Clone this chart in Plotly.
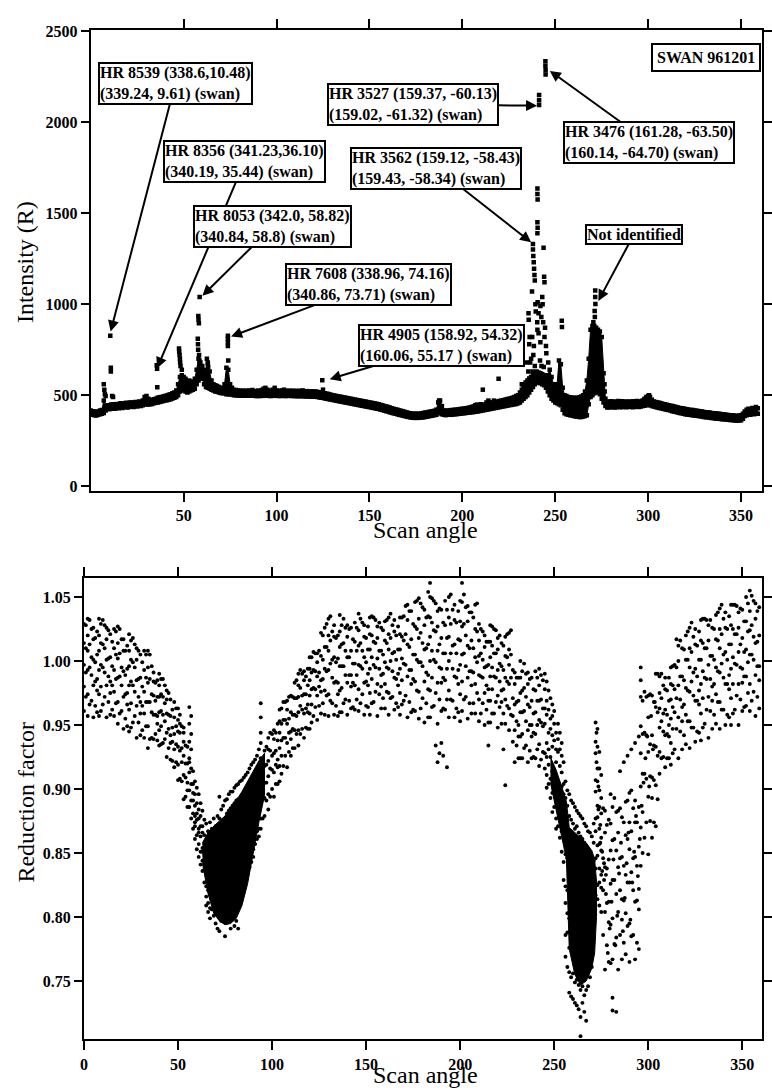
import plotly.graph_objects as go

# ================= TOP PANEL: SWAN 961201 intensity (R) vs scan angle =================
scan_deg = list(range(360))  # 1-degree scan-angle grid of the band

band_lo = [
    395, 392, 390, 388, 392, 395, 398, 402, 415, 425,
    422, 425, 428, 425, 430, 428, 432, 430, 433, 435,
    432, 436, 438, 435, 440, 438, 442, 440, 445, 448,
    450, 448, 450, 452, 455, 458, 460, 462, 465, 468,
    470, 472, 475, 478, 482, 486, 490, 500, 520, 530,
    525, 520, 515, 520, 525, 530, 535, 560, 580, 600,
    590, 560, 545, 540, 535, 530, 525, 520, 518, 515,
    512, 510, 510, 505, 505, 505, 503, 500, 500, 498,
    498, 497, 498, 496, 497, 498, 496, 497, 496, 495,
    496, 495, 497, 496, 498, 497, 496, 495, 497, 498,
    496, 496, 495, 497, 496, 495, 496, 497, 495, 496,
    495, 494, 495, 494, 495, 493, 494, 493, 492, 493,
    491, 492, 490, 488, 486, 485, 482, 480, 478, 476,
    474, 472, 470, 468, 466, 464, 462, 460, 458, 456,
    454, 452, 450, 448, 446, 444, 442, 440, 438, 436,
    434, 432, 430, 428, 426, 424, 420, 418, 415, 412,
    410, 406, 403, 400, 398, 395, 392, 390, 387, 385,
    382, 380, 378, 376, 375, 376, 375, 376, 377, 378,
    380, 382, 384, 386, 388, 390, 392, 400, 410, 395,
    392, 390, 392, 393, 392, 394, 395, 396, 397, 398,
    400, 401, 402, 404, 405, 406, 407, 409, 410, 412,
    414, 416, 418, 420, 422, 424, 426, 428, 430, 432,
    434, 436, 438, 440, 442, 444, 446, 448, 450, 452,
    455, 460, 470, 480, 490, 500, 515, 530, 545, 560,
    570, 570, 565, 560, 555, 540, 520, 500, 480, 470,
    460, 455, 450, 445, 420, 400, 395, 392, 390, 388,
    385, 383, 382, 380, 380, 382, 385, 390, 450, 490,
    500, 510, 520, 515, 505, 480, 460, 440, 432, 434,
    433, 435, 432, 434, 436, 433, 435, 437, 434, 436,
    435, 437, 434, 436, 438, 435, 437, 440, 442, 445,
    448, 445, 440, 438, 435, 432, 430, 428, 425, 422,
    420, 418, 415, 412, 410, 408, 405, 402, 400, 398,
    395, 393, 392, 391, 390, 388, 387, 386, 384, 382,
    380, 379, 378, 377, 375, 374, 372, 371, 370, 369,
    368, 367, 366, 365, 364, 363, 362, 361, 360, 361,
    362, 370, 385, 390, 395, 392, 398, 395, 400, 398,
]

band_hi = [
    415, 412, 410, 408, 410, 415, 418, 470, 440, 445,
    445, 448, 450, 445, 452, 450, 455, 450, 455, 458,
    455, 460, 460, 458, 462, 460, 465, 462, 470, 490,
    495, 480, 472, 475, 478, 480, 485, 488, 490, 492,
    495, 498, 502, 505, 510, 515, 525, 560, 600, 610,
    600, 590, 575, 580, 570, 575, 590, 640, 700, 680,
    660, 640, 620, 670, 630, 580, 560, 555, 550, 545,
    540, 538, 560, 650, 640, 560, 540, 530, 528, 525,
    525, 522, 525, 520, 524, 525, 522, 528, 520, 522,
    525, 520, 528, 535, 540, 530, 525, 522, 530, 540,
    526, 524, 522, 526, 530, 524, 522, 525, 522, 524,
    523, 522, 524, 521, 526, 520, 522, 520, 519, 521,
    518, 520, 518, 516, 514, 530, 510, 508, 506, 503,
    500, 498, 496, 494, 492, 490, 488, 486, 484, 482,
    480, 478, 476, 474, 472, 470, 468, 466, 464, 462,
    460, 458, 456, 454, 452, 450, 446, 444, 440, 438,
    435, 432, 428, 425, 422, 420, 416, 414, 411, 408,
    405, 402, 400, 398, 398, 398, 397, 398, 400, 402,
    404, 405, 408, 410, 412, 414, 420, 460, 470, 440,
    416, 414, 415, 416, 418, 418, 420, 420, 422, 424,
    425, 426, 428, 430, 432, 435, 438, 445, 448, 440,
    450, 445, 448, 460, 470, 460, 458, 470, 462, 465,
    468, 470, 472, 475, 478, 480, 482, 486, 490, 495,
    500, 515, 530, 550, 570, 580, 590, 600, 610, 620,
    630, 625, 620, 615, 610, 600, 610, 640, 600, 560,
    550, 560, 690, 670, 540, 500, 495, 490, 488, 486,
    485, 484, 485, 488, 492, 500, 520, 580, 700, 860,
    880, 880, 870, 860, 850, 820, 620, 480, 465, 462,
    466, 463, 465, 462, 468, 464, 466, 463, 465, 462,
    465, 463, 466, 462, 468, 464, 465, 470, 480, 490,
    495, 490, 475, 465, 462, 460, 458, 456, 452, 450,
    447, 445, 442, 440, 437, 435, 432, 430, 428, 426,
    424, 422, 420, 419, 418, 416, 414, 413, 411, 410,
    408, 406, 405, 404, 402, 401, 400, 399, 398, 397,
    395, 394, 392, 391, 390, 389, 388, 387, 386, 388,
    390, 398, 410, 420, 425, 418, 430, 425, 435, 428,
]

# isolated points above the band (scan angle, intensity R)
spike_points = [
    (7.0, 560), (7.3, 530), (7.6, 505), (8.0, 495),
    (10.5, 827), (10.8, 650), (10.8, 630), (11.5, 495), (12.0, 490),
    (35.5, 664), (35.7, 645), (35.8, 544),
    (47.5, 756), (47.6, 738), (47.8, 720), (48.0, 700), (48.1, 680), (48.3, 660), (49.0, 640),
    (57.6, 810), (57.7, 780), (57.8, 750), (57.9, 935), (58.0, 915), (58.2, 895),
    (58.6, 1039), (58.3, 720), (58.5, 690), (62.5, 700), (63.0, 680), (63.2, 655),
    (73.8, 827), (73.8, 810), (73.8, 790), (73.8, 770), (74.0, 690),
    (124.6, 582), (187.5, 470), (211.0, 530), (219.5, 590),
    (241.3, 2150), (241.3, 2120), (241.3, 2095),
    (244.7, 2335), (244.7, 2310), (244.8, 2285), (244.8, 2262),
    (240.4, 1635), (240.4, 1605), (240.5, 1575), (240.4, 1450), (240.5, 1420), (240.4, 1390),
    (238.0, 1330), (238.0, 1300), (238.2, 1265), (238.4, 1230), (238.6, 1195), (238.8, 1160), (239.0, 1130),
    (243.7, 1310), (244.0, 1150), (244.2, 1120),
    (237.5, 1070), (240.5, 1010), (242.0, 990), (241.0, 950), (242.5, 930),
    (235.6, 950), (235.7, 915), (240.3, 900), (240.4, 860),
    (243.5, 900), (244.5, 870), (244.2, 820), (245.0, 770), (245.2, 730),
    (237.6, 820), (238.5, 770), (238.2, 720), (241.0, 840), (242.0, 790),
    (237.0, 700), (236.5, 680), (234.5, 680), (235.5, 630), (236.0, 590), (232.0, 560), (233.0, 540),
    (243.0, 1040), (243.2, 1000), (239.3, 1000), (239.5, 960), (236.2, 820), (236.0, 780),
    (239.0, 660), (241.8, 690), (243.8, 655), (246.2, 680), (237.8, 630), (242.6, 660),
    (253.5, 909), (253.6, 875),
    (271.5, 1075), (271.5, 1040), (271.6, 1001), (271.2, 963), (271.3, 930), (270.5, 900),
    (276.5, 560), (276.6, 520), (300.5, 500),
]

top_ticks_x = [50, 100, 150, 200, 250, 300, 350]
top_ticks_y = [0, 500, 1000, 1500, 2000, 2500]

# star labels: (text, target angle, target R, box-centre angle, box-centre R)
star_labels = [
    ("HR 8539 (338.6,10.48)<br>(339.24, 9.61) (swan)", 10.7, 850, 45.5, 2214),
    ("HR 8356 (341.23,36.10)<br>(340.19, 35.44) (swan)", 35.7, 648, 82.9, 1786),
    ("HR 8053 (342.0, 58.82)<br>(340.84, 58.8) (swan)", 60.1, 1046, 97.8, 1427),
    ("HR 7608 (338.96, 74.16)<br>(340.86, 73.71) (swan)", 75.5, 822, 149.4, 1106),
    ("HR 4905 (158.92, 54.32)<br>(160.06, 55.17 ) (swan)", 128.6, 588, 188.7, 773),
    ("HR 3527 (159.37, -60.13)<br>(159.02, -61.32) (swan)", 240.2, 2091, 173.3, 2097),
    ("HR 3562 (159.12, -58.43)<br>(159.43, -58.34) (swan)", 237.0, 1340, 186.0, 1748),
    ("HR 3476 (161.28, -63.50)<br>(160.14, -64.70) (swan)", 247.1, 2282, 300.3, 1890),
    ("Not identified", 273.2, 1018, 292.3, 1383),
]
panel_label = ("SWAN 961201", 331.1, 2353)

# ================= BOTTOM PANEL: reduction factor vs scan angle =================
# dense cores (angle, lower / upper edge of the solid black region)
core_left_angle = [63, 66, 69, 72, 75, 78, 81, 84, 87, 90, 93, 96]
core_left_lo = [0.842, 0.818, 0.803, 0.797, 0.794, 0.795, 0.799, 0.809, 0.826, 0.850, 0.874, 0.895]
core_left_hi = [0.858, 0.866, 0.871, 0.875, 0.879, 0.885, 0.891, 0.898, 0.906, 0.913, 0.922, 0.928]
core_right_angle = [248, 251, 254, 256.5, 258, 261, 264, 267, 270, 271.5, 272.5]
core_right_lo = [0.905, 0.882, 0.862, 0.845, 0.775, 0.755, 0.747, 0.750, 0.760, 0.772, 0.800]
core_right_hi = [0.925, 0.915, 0.902, 0.890, 0.870, 0.866, 0.862, 0.858, 0.852, 0.845, 0.828]

# scattered points, one list per scan-angle degree, values in thousandths
rf_cols_000_059 = [
    [961, 980, 997, 1014, 1029], [972, 991, 1010, 1028], [957, 974, 993, 1008, 1020, 1033],
    [966, 995, 1013, 1032], [969, 989, 1003, 1025], [956, 981, 1001, 1017, 1026],
    [965, 984, 999, 1018], [960, 977, 986, 1005, 1023], [957, 974, 993, 1008, 1020, 1033],
    [961, 980, 997, 1014, 1029], [966, 995, 1013, 1032], [972, 991, 1010, 1028],
    [956, 981, 1001, 1017, 1026], [968, 988, 1002, 1024], [958, 975, 984, 1003, 1021],
    [962, 981, 996, 1015], [957, 976, 993, 1010, 1025], [967, 986, 1005, 1023],
    [951, 968, 987, 1002, 1014, 1027], [959, 988, 1006, 1025], [961, 981, 995, 1017],
    [947, 972, 992, 1008, 1017], [955, 974, 989, 1008], [949, 966, 975, 994, 1012],
    [945, 962, 981, 996, 1008, 1021], [948, 967, 984, 1001, 1016], [952, 981, 999, 1018],
    [957, 976, 995, 1013], [940, 965, 985, 1001, 1010], [952, 972, 986, 1008],
    [942, 959, 968, 987, 1005], [946, 965, 980, 999], [940, 959, 976, 993, 1008],
    [949, 968, 987, 1005], [932, 949, 968, 983, 995, 1008], [939, 968, 986, 1005],
    [940, 960, 974, 996], [939, 958, 973, 984, 991], [943, 958, 969, 983],
    [938, 951, 957, 972, 985], [934, 946, 960, 972, 981, 990], [935, 949, 961, 974, 986],
    [936, 958, 972, 986], [939, 953, 967, 981], [925, 944, 959, 970, 977],
    [932, 947, 958, 975], [923, 936, 942, 957, 970], [922, 937, 948, 962],
    [917, 931, 943, 956, 968], [921, 935, 949, 963], [907, 919, 933, 945, 954, 963],
    [908, 930, 944, 951, 958], [906, 921, 932, 949], [892, 911, 926, 937, 944, 948],
    [894, 909, 920, 934], [886, 899, 905, 920, 933],
    [964, 951, 937, 924, 913, 899, 886, 921], [957, 943, 931, 916, 904, 891, 877],
    [904, 891, 914, 881, 897, 869], [896, 879, 906, 871, 887, 861, 874],
]
rf_cols_060_119 = [
    [889, 876, 901, 864, 881, 853], [884, 869, 896, 857, 877, 847, 866],
    [879, 863, 889, 851, 871, 841], [871, 854, 883, 844, 866, 836, 851],
    [864, 849, 876, 837, 857, 827], [873, 859, 847, 834, 824, 816, 809],
    [867, 854, 844, 831, 821, 811, 804], [874, 861, 851, 837, 827, 819, 807, 799],
    [869, 857, 847, 834, 826, 814, 806], [877, 864, 853, 841, 829, 821, 811, 801],
    [871, 861, 849, 837, 825, 817, 805, 795], [879, 867, 856, 842, 833, 823, 813, 791],
    [894, 877, 863, 853, 839, 831, 814, 789], [884, 873, 859, 849, 837, 826, 811, 797],
    [887, 876, 863, 851, 841, 827, 816, 802], [891, 877, 867, 853, 844, 829, 817, 785],
    [892, 881, 867, 857, 846, 833, 819, 799], [896, 883, 871, 859, 846, 836, 819, 801],
    [898, 885, 873, 861, 848, 837, 821, 791], [898, 887, 875, 863, 852, 839, 823, 805],
    [901, 889, 877, 865, 852, 841, 825, 793], [903, 891, 879, 867, 856, 843, 827, 797],
    [904, 892, 878, 868, 858, 845, 829, 791], [906, 892, 882, 870, 858, 847, 831, 809],
    [907, 895, 883, 871, 861, 849, 833, 816], [909, 897, 885, 873, 861, 851, 837, 823],
    [911, 899, 887, 875, 865, 853, 841, 829], [913, 901, 889, 877, 865, 856, 844, 834],
    [916, 903, 891, 879, 869, 857, 849, 839], [919, 906, 893, 881, 871, 861, 851, 843],
    [921, 907, 896, 884, 873, 861, 853, 847], [923, 911, 897, 887, 874, 866, 857],
    [926, 911, 901, 887, 879, 867, 861], [931, 914, 903, 889, 881, 869, 863],
    [967, 956, 944, 936, 924, 913, 901, 889, 877, 869], [877, 892, 903, 917],
    [879, 893, 905, 918, 930], [891, 905, 919, 933], [884, 896, 910, 922, 931, 940],
    [894, 916, 930, 944], [900, 915, 926, 943], [894, 913, 928, 939, 946],
    [904, 919, 930, 944], [904, 917, 923, 938, 951], [906, 918, 932, 944, 953, 962],
    [912, 926, 938, 951, 963], [918, 940, 954, 968], [926, 940, 954, 968],
    [917, 936, 951, 962, 969], [929, 944, 955, 972], [926, 939, 945, 960, 973],
    [932, 947, 958, 972], [932, 946, 958, 971, 983], [943, 957, 971, 985],
    [934, 946, 960, 972, 981, 990], [943, 965, 979, 993], [947, 962, 973, 990],
    [940, 959, 974, 985, 992], [948, 963, 974, 988], [947, 960, 966, 981, 994],
]
rf_cols_120_179 = [
    [947, 959, 973, 985, 994, 1003], [952, 966, 978, 991, 1003], [957, 979, 993, 1007],
    [964, 978, 992, 1006], [954, 973, 988, 999, 1006], [965, 980, 991, 1008],
    [959, 976, 985, 1004, 1022], [967, 986, 1001, 1020], [958, 977, 994, 1011, 1026],
    [973, 992, 1011, 1029], [957, 974, 993, 1008, 1020, 1033], [969, 998, 1016, 1035],
    [967, 987, 1001, 1023], [958, 983, 1003, 1019, 1028], [965, 984, 999, 1018],
    [957, 974, 983, 1002, 1020], [960, 977, 996, 1011, 1023, 1036], [960, 979, 996, 1013, 1028],
    [967, 996, 1014, 1033], [970, 989, 1008, 1026], [958, 983, 1003, 1019, 1028],
    [969, 989, 1003, 1025], [963, 980, 989, 1008, 1026], [964, 983, 998, 1017],
    [962, 981, 998, 1015, 1030], [970, 989, 1008, 1026], [961, 978, 997, 1012, 1024, 1037],
    [967, 996, 1014, 1033], [974, 994, 1008, 1030], [958, 983, 1003, 1019, 1028],
    [965, 984, 999, 1018], [964, 981, 990, 1009, 1027], [958, 975, 994, 1009, 1021, 1034],
    [967, 986, 1003, 1020, 1035], [968, 997, 1015, 1034], [976, 995, 1014, 1032],
    [957, 982, 1002, 1018, 1027], [974, 994, 1008, 1030], [963, 980, 989, 1008, 1026],
    [971, 990, 1005, 1024], [963, 982, 999, 1016, 1031], [976, 995, 1014, 1032],
    [958, 975, 994, 1009, 1021, 1034], [971, 1000, 1018, 1037], [972, 992, 1006, 1028],
    [962, 987, 1007, 1023, 1032], [967, 986, 1001, 1020], [964, 981, 990, 1009, 1027],
    [958, 975, 994, 1009, 1021, 1034], [966, 985, 1002, 1019, 1034], [969, 998, 1016, 1035],
    [973, 997, 1021, 1043], [956, 988, 1013, 1032, 1044], [968, 993, 1011, 1039],
    [960, 982, 993, 1017, 1039], [962, 986, 1005, 1029], [961, 984, 1005, 1027, 1046],
    [977, 1001, 1025, 1047], [955, 976, 999, 1018, 1033, 1049], [963, 999, 1022, 1045],
]
rf_cols_180_239 = [
    [971, 996, 1014, 1042], [952, 984, 1009, 1028, 1040], [967, 991, 1010, 1034],
    [956, 978, 989, 1013, 1035, 1054], [956, 977, 1000, 1019, 1034, 1050, 1061],
    [964, 987, 1008, 1030, 1049], [965, 1001, 1024, 1047], [975, 999, 1023, 1045, 934],
    [951, 983, 1008, 1027, 1039, 921], [970, 995, 1013, 1041, 928],
    [961, 983, 994, 1018, 1040, 936], [963, 987, 1006, 1030, 926],
    [962, 985, 1006, 1028, 1047], [970, 994, 1018, 1040, 917],
    [956, 977, 1000, 1019, 1034, 1050], [970, 1006, 1029, 1052], [969, 994, 1012, 1040],
    [956, 988, 1013, 1032, 1044], [963, 987, 1006, 1030], [960, 982, 993, 1017, 1039],
    [953, 974, 997, 1016, 1031, 1047], [961, 984, 1005, 1027, 1046, 1061],
    [970, 1006, 1029, 1052], [972, 996, 1020, 1042], [955, 987, 1012, 1031, 1043],
    [967, 992, 1010, 1038], [959, 981, 992, 1016, 1038], [967, 991, 1010, 1034],
    [959, 982, 1003, 1025, 1044], [975, 999, 1023, 1045],
    [953, 970, 989, 1004, 1016, 1029], [959, 988, 1006, 1025], [967, 987, 1001, 1023],
    [950, 975, 995, 1011, 1020], [962, 981, 996, 1015], [952, 969, 978, 997, 1015, 934],
    [952, 969, 988, 1003, 1015, 1028], [959, 978, 995, 1012, 1027], [959, 988, 1006, 1025],
    [968, 987, 1006, 1024], [948, 973, 993, 1009, 1018], [964, 984, 998, 1020],
    [951, 968, 977, 996, 1014], [959, 978, 993, 1012, 931], [951, 970, 987, 1004, 1019, 903],
    [965, 984, 1003, 1021], [946, 963, 982, 997, 1009, 1022], [958, 987, 1005, 1024],
    [937, 957, 971, 993], [921, 946, 966, 982, 991], [934, 953, 968, 987],
    [924, 941, 950, 969, 987], [924, 941, 960, 975, 987, 1000], [924, 943, 960, 977, 992],
    [932, 961, 979, 998], [934, 953, 972, 990], [921, 946, 966, 982, 991],
    [930, 950, 964, 986], [924, 941, 950, 969, 987], [925, 944, 959, 978],
]
rf_cols_240_299 = [
    [924, 943, 960, 977, 992], [931, 950, 969, 987], [918, 935, 954, 969, 981, 994],
    [923, 952, 970, 989], [929, 949, 963, 985], [951, 963, 928, 978, 916, 990],
    [936, 958, 925, 969, 911, 984, 901], [944, 919, 962, 904, 977, 931],
    [925, 947, 908, 955, 893, 971], [933, 914, 957, 897, 942, 966, 882],
    [912, 938, 899, 951, 886, 961], [921, 903, 944, 877, 931, 869],
    [906, 929, 884, 939, 871, 951, 895], [897, 918, 879, 931, 862, 944],
    [889, 913, 867, 926, 851, 902, 936], [884, 904, 861, 921, 843, 896, 829],
    [893, 906, 867, 849, 824, 811, 786, 769], [887, 899, 862, 846, 821, 803, 788, 761],
    [879, 896, 858, 841, 817, 799, 776, 757, 741], [876, 891, 861, 833, 819, 794, 781, 753, 738],
    [873, 889, 852, 838, 811, 797, 772, 756, 736], [869, 886, 849, 831, 813, 788, 771, 749, 733],
    [871, 883, 851, 827, 809, 791, 766, 751, 731], [866, 881, 844, 829, 803, 789, 763, 747, 728],
    [863, 879, 846, 821, 806, 781, 767, 743, 722, 707], [861, 877, 839, 823, 798, 783, 761, 746, 733],
    [858, 873, 841, 816, 801, 777, 764, 739, 726], [856, 871, 834, 819, 794, 779, 756, 743, 719],
    [853, 867, 836, 811, 797, 771, 759, 746], [849, 866, 829, 814, 789, 773, 753],
    [847, 863, 826, 806, 791, 769, 761], [873, 858, 844, 829, 816, 801],
    [952, 937, 928, 907, 898, 877, 867, 846, 838, 817], [947, 933, 916, 906, 887, 878, 856, 848, 825, 814],
    [929, 916, 899, 886, 869, 857, 838, 827, 809], [911, 893, 881, 862, 852, 833, 823, 804],
    [786, 821, 846, 885], [759, 804, 839, 866, 883], [778, 811, 838, 872],
    [765, 796, 812, 845, 876], [764, 794, 826, 852, 873, 896], [767, 799, 829, 860, 886, 737, 727],
    [779, 829, 861, 893], [784, 818, 852, 882, 726], [759, 804, 839, 866, 883],
    [786, 821, 846, 885, 914], [767, 798, 814, 847, 878], [780, 813, 840, 874, 921],
    [771, 803, 833, 864, 890], [793, 827, 861, 891, 926], [765, 795, 827, 853, 874, 897],
    [785, 835, 867, 899, 931], [786, 821, 846, 885], [767, 812, 847, 874, 891, 936],
    [780, 813, 840, 874], [775, 806, 822, 855, 886, 941],
    [840, 870, 902, 928, 949, 972, 985, 995], [850, 882, 912, 943, 969],
    [862, 912, 944, 976], [874, 908, 942, 972],
]
rf_cols_300_359 = [
    [849, 894, 929, 956, 973], [875, 910, 935, 974], [862, 893, 909, 942, 973],
    [874, 907, 934, 968], [871, 903, 933, 964, 990], [892, 926, 960, 990],
    [912, 929, 948, 963, 975, 988], [924, 953, 971, 990], [925, 945, 959, 981],
    [917, 942, 962, 978, 987], [924, 943, 958, 977], [924, 941, 950, 969, 987],
    [919, 936, 955, 970, 982, 995], [928, 947, 964, 981, 996], [931, 960, 978, 997],
    [947, 971, 995, 1017], [924, 956, 981, 1000, 1012], [945, 970, 988, 1016],
    [931, 953, 964, 988, 1010], [942, 966, 985, 1009], [935, 958, 979, 1001, 1020],
    [953, 977, 1001, 1023], [932, 953, 976, 995, 1010, 1026], [948, 984, 1007, 1030],
    [948, 973, 991, 1019], [937, 969, 994, 1013, 1025], [945, 969, 988, 1012],
    [944, 966, 977, 1001, 1023], [938, 959, 982, 1001, 1016, 1032], [948, 971, 992, 1014, 1033],
    [951, 987, 1010, 1033], [962, 986, 1010, 1032], [940, 972, 997, 1016, 1028],
    [961, 986, 1004, 1032], [947, 969, 980, 1004, 1026], [958, 982, 1001, 1025],
    [951, 974, 995, 1017, 1036], [968, 992, 1016, 1038], [947, 968, 991, 1010, 1025, 1041],
    [962, 998, 1021, 1044], [962, 987, 1005, 1033], [950, 982, 1007, 1026, 1038],
    [958, 982, 1001, 1025], [956, 978, 989, 1013, 1035], [950, 971, 994, 1013, 1028, 1044],
    [959, 982, 1003, 1025, 1044], [962, 998, 1021, 1044], [973, 997, 1021, 1043],
    [950, 982, 1007, 1026, 1038], [970, 995, 1013, 1041],
    [961, 983, 994, 1018, 1040], [964, 988, 1007, 1031], [965, 988, 1009, 1031, 1050],
    [975, 999, 1023, 1045], [961, 982, 1005, 1024, 1039, 1055], [969, 1005, 1028, 1051],
    [976, 1001, 1019, 1047], [957, 989, 1014, 1033, 1045], [972, 996, 1015, 1039],
    [963, 985, 996, 1020, 1042],
]

# extra points read between whole degrees around the second minimum (angle, factor)
rf_extra_points = [
    (272.5, 0.944), (272.5, 0.921), (273.5, 0.902), (273.5, 0.884), (274.5, 0.872),
    (274.5, 0.858), (275.5, 0.851), (275.5, 0.836), (276.5, 0.829), (276.5, 0.842),
    (277.5, 0.818), (277.5, 0.833), (278.5, 0.772), (279.5, 0.791), (280.5, 0.812),
    (281.5, 0.845), (282.5, 0.778), (283.5, 0.801), (284.5, 0.834), (285.5, 0.858),
    (286.5, 0.789), (287.5, 0.815), (288.5, 0.842), (289.5, 0.866), (290.5, 0.798),
    (291.5, 0.827), (292.5, 0.851), (293.5, 0.879), (294.5, 0.832), (295.5, 0.861),
    (296.5, 0.887), (297.5, 0.905), (298.5, 0.924), (299.5, 0.941), (300.5, 0.902),
    (301.5, 0.957), (302.5, 0.931), (303.5, 0.968),
]

bottom_ticks_x = [0, 50, 100, 150, 200, 250, 300, 350]
bottom_ticks_y = [0.75, 0.80, 0.85, 0.90, 0.95, 1.00, 1.05]

# ================= build figure =================
SERIF = "Liberation Serif, Times New Roman, serif"
W, H = 772, 1091

fig = go.Figure()

# top: solid band between lower and upper edge, plus its edge points
fig.add_trace(go.Scatter(x=scan_deg + scan_deg[::-1], y=band_hi + band_lo[::-1],
                         mode="lines", fill="toself", fillcolor="black",
                         line=dict(width=1, color="black"),
                         xaxis="x", yaxis="y", hoverinfo="skip"))
for edge in (band_lo, band_hi):
    fig.add_trace(go.Scatter(x=scan_deg, y=edge, mode="markers",
                             marker=dict(symbol="square", size=4.5, color="black"),
                             xaxis="x", yaxis="y", hoverinfo="skip"))
fig.add_trace(go.Scatter(x=[p[0] for p in spike_points], y=[p[1] for p in spike_points],
                         mode="markers", marker=dict(symbol="square", size=4.5, color="black"),
                         xaxis="x", yaxis="y", hoverinfo="skip"))

# bottom: dense cores
for ang, lo, hi in [(core_left_angle, core_left_lo, core_left_hi),
                    (core_right_angle, core_right_lo, core_right_hi)]:
    fig.add_trace(go.Scatter(x=ang + ang[::-1], y=hi + lo[::-1], mode="lines",
                             fill="toself", fillcolor="black",
                             line=dict(width=1, color="black"),
                             xaxis="x2", yaxis="y2", hoverinfo="skip"))

rf_cols = (rf_cols_000_059 + rf_cols_060_119 + rf_cols_120_179 +
           rf_cols_180_239 + rf_cols_240_299 + rf_cols_300_359)
rf_x, rf_y = [], []
for deg, col in enumerate(rf_cols):
    for v in col:
        rf_x.append(deg)
        rf_y.append(v / 1000.0)
for a, v in rf_extra_points:
    rf_x.append(a)
    rf_y.append(v)
fig.add_trace(go.Scatter(x=rf_x, y=rf_y, mode="markers",
                         marker=dict(symbol="circle", size=3.9, color="black", line=dict(width=0)),
                         xaxis="x2", yaxis="y2", hoverinfo="skip"))

tickfont = dict(family=SERIF, size=16, color="black", weight="bold")
axis_common = dict(showgrid=False, zeroline=False, showline=True, linecolor="black",
                   linewidth=2, ticks="outside", tickwidth=2, tickcolor="black",
                   mirror="ticks", tickfont=tickfont)

fig.update_layout(
    width=W, height=H, margin=dict(l=0, r=0, t=0, b=0),
    paper_bgcolor="white", plot_bgcolor="white", showlegend=False,
    xaxis=dict(domain=[87.9 / W, 768 / W], anchor="y", range=[0, 361.3],
               tickmode="array", tickvals=top_ticks_x, ticklen=9, **axis_common),
    yaxis=dict(domain=[1 - 489 / H, 1 - 23 / H], anchor="x", range=[-27.2, 2508],
               tickmode="array", tickvals=top_ticks_y, ticklen=8, **axis_common),
    xaxis2=dict(domain=[81 / W, 768 / W], anchor="y2", range=[0, 360.5],
                tickmode="array", tickvals=bottom_ticks_x, ticklen=9, **axis_common),
    yaxis2=dict(domain=[1 - 1043 / H, 1 - 577 / H], anchor="x2", range=[0.7044, 1.0647],
                tickmode="array", tickvals=bottom_ticks_y, tickformat=".2f", ticklen=8,
                **axis_common),
)

annotations = []
label_font = dict(family=SERIF, size=16, color="black")
for text, tx, ty, bx, by in star_labels:
    annotations.append(dict(
        x=tx, y=ty, xref="x", yref="y", ax=bx, ay=by, axref="x", ayref="y",
        text="<b>" + text + "</b>", align="left", showarrow=True,
        arrowhead=2, arrowsize=1.1, arrowwidth=2, arrowcolor="black",
        bgcolor="white", bordercolor="black", borderwidth=2, borderpad=0,
        font=label_font))
annotations.append(dict(
    x=panel_label[1], y=panel_label[2], xref="x", yref="y", showarrow=False,
    text="<b>" + panel_label[0] + "</b>", bgcolor="white", bordercolor="black",
    borderwidth=2, borderpad=4, font=label_font))

title_font = dict(family=SERIF, size=24, color="black")
title_common = dict(xref="paper", yref="paper", showarrow=False, font=title_font,
                    xanchor="center", yanchor="middle")
annotations += [
    dict(x=22 / W, y=1 - 258 / H, text="Intensity (R)", textangle=-90, **title_common),
    dict(x=427 / W, y=1 - 528 / H, text="Scan angle", **title_common),
    dict(x=22 / W, y=1 - 803 / H, text="Reduction factor", textangle=-90, **title_common),
    dict(x=427 / W, y=1 - 1079 / H, text="Scan angle", **title_common),
]
fig.update_layout(annotations=annotations)

fig.write_html("out.html", config={"displayModeBar": False},
               post_script="document.body.style.margin='0px';")
